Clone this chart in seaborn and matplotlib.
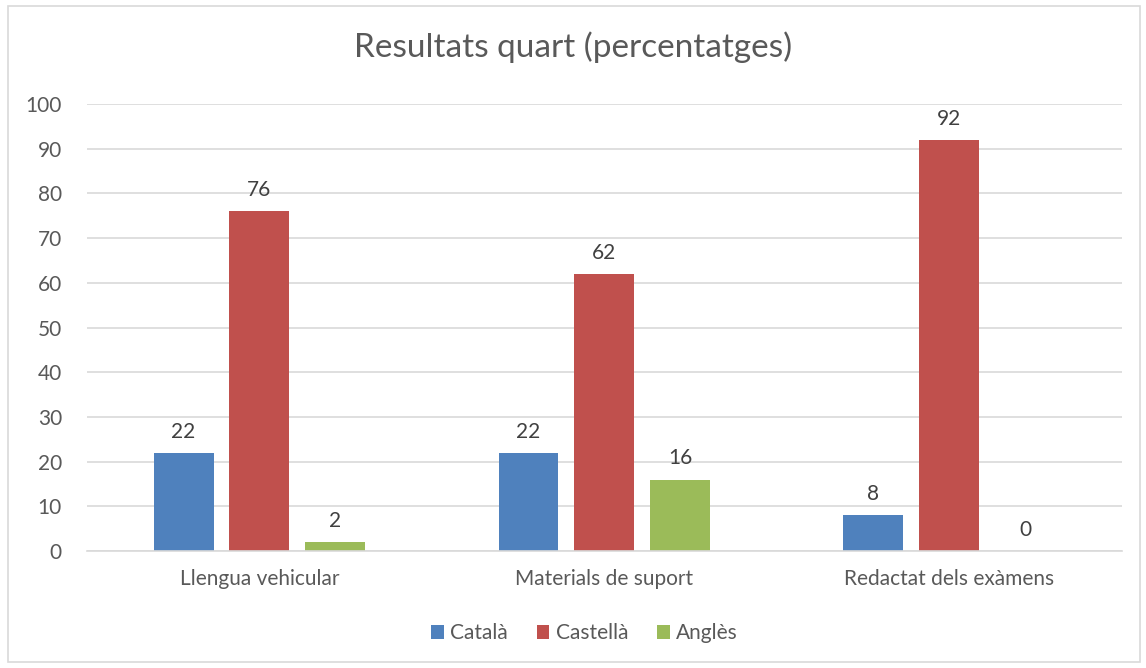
import matplotlib
matplotlib.use("Agg")
import matplotlib.pyplot as plt
import seaborn as sns
import pandas as pd
from matplotlib.patches import Rectangle

categories = ["Llengua vehicular", "Materials de suport", "Redactat dels exàmens"]
series_names = ["Català", "Castellà", "Anglès"]
catala = [22, 22, 8]
castella = [76, 62, 92]
angles = [2, 16, 0]
colors = ["#4F81BD", "#C0504D", "#9BBB59"]

rows = []
for name, vals in zip(series_names, [catala, castella, angles]):
    for c, v in zip(categories, vals):
        rows.append({"cat": c, "serie": name, "val": v})
df = pd.DataFrame(rows)

sns.set_theme(style="white")
plt.rcParams["font.family"] = ["Lato", "DejaVu Sans"]

fig = plt.figure(figsize=(11.46, 6.68), dpi=100)
ax = fig.add_axes([0.0759, 0.1751, 0.903, 0.6692])

sns.barplot(data=df, x="cat", y="val", hue="serie", order=categories,
            hue_order=series_names, palette=colors, width=0.66, gap=0.21,
            saturation=1, ax=ax, legend=True, linewidth=0)

for cont in ax.containers:
    ax.bar_label(cont, labels=[f"{int(v)}" for v in cont.datavalues],
                 padding=8, fontsize=15, color="#404040")

ax.set_ylim(0, 100)
ax.set_xlim(-0.5, 2.5)
ax.set_yticks(range(0, 101, 10))
ax.yaxis.grid(True, color="#D9D9D9", linewidth=1.2)
ax.set_axisbelow(True)
for s in ["top", "right", "left"]:
    ax.spines[s].set_visible(False)
ax.spines["bottom"].set_color("#D9D9D9")
ax.spines["bottom"].set_linewidth(1.2)
ax.tick_params(axis="both", length=0, labelsize=15, colors="#595959")
ax.tick_params(axis="y", pad=18)
ax.tick_params(axis="x", pad=13)
ax.set_xlabel("")
ax.set_ylabel("")

fig.suptitle("Resultats quart (percentatges)", y=0.953, fontsize=24, color="#595959")

h, l = ax.get_legend_handles_labels()
ax.legend_.remove()
fig.legend(h, l, loc="center", bbox_to_anchor=(0.51, 0.052), ncol=3, frameon=False,
           fontsize=15, labelcolor="#595959", handlelength=0.6, handleheight=0.6,
           handletextpad=0.3, columnspacing=1.4)

fig.patches.append(Rectangle((0.007, 0.009), 0.988, 0.982, transform=fig.transFigure,
                             fill=False, edgecolor="#D9D9D9", linewidth=1.2))

fig.savefig("out.png", dpi=100)
